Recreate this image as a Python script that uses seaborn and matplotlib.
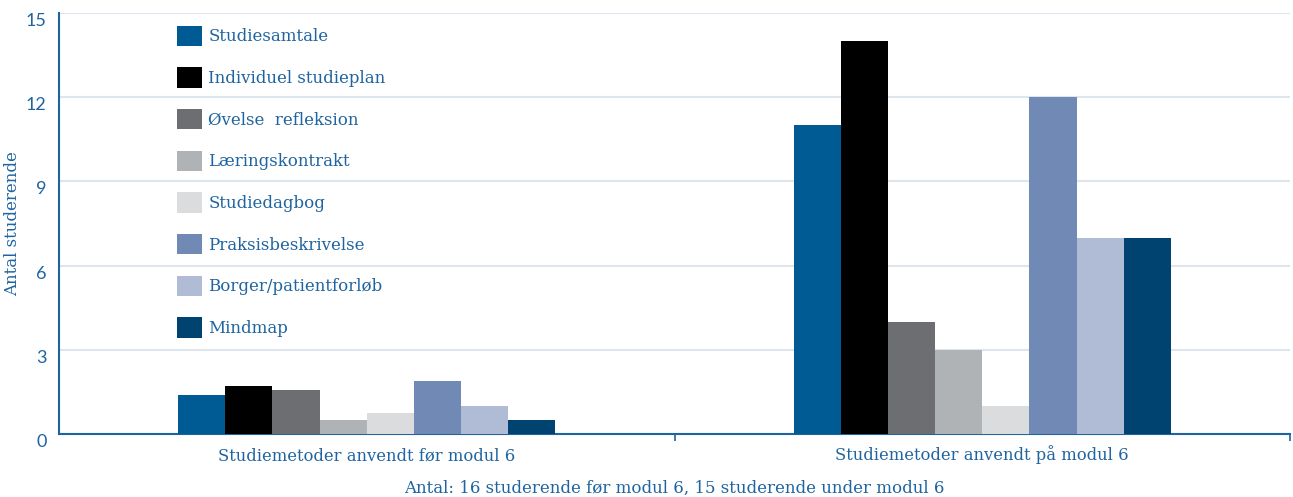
import matplotlib
matplotlib.use("Agg")
import matplotlib.pyplot as plt
import seaborn as sns
import pandas as pd
from matplotlib.patches import Patch

# Data
groups = ["Studiemetoder anvendt før modul 6", "Studiemetoder anvendt på modul 6"]
methods = ["Studiesamtale", "Individuel studieplan", "Øvelse  refleksion", "Læringskontrakt",
           "Studiedagbog", "Praksisbeskrivelse", "Borger/patientforløb", "Mindmap"]
before = [1.4, 1.7, 1.55, 0.5, 0.75, 1.9, 1.0, 0.5]
during = [11, 14, 4, 3, 1, 12, 7, 7]
colors = ["#005a94", "#000000", "#6d6e71", "#b0b3b5", "#dbdcdd", "#7089b5", "#b0bcd6", "#004370"]
y_ticks = [0, 3, 6, 9, 12, 15]

df = pd.DataFrame({
    "gruppe": [groups[0]] * len(methods) + [groups[1]] * len(methods),
    "metode": methods * 2,
    "antal": before + during,
})

blue = "#1f64a0"
sns.set_style("white")
plt.rcParams["font.family"] = ["DejaVu Serif"]

fig = plt.figure(figsize=(12.93, 4.97), dpi=100)
ax = fig.add_axes([59 / 1293, 63 / 497, 1231 / 1293, 421 / 497])

sns.barplot(data=df, x="gruppe", y="antal", hue="metode", hue_order=methods,
            palette=colors, width=0.613, gap=0, saturation=1, ax=ax, legend=False,
            linewidth=0, zorder=3)

ax.set_ylim(0, 15)
ax.set_xlim(-0.5, 1.5)
ax.set_yticks(y_ticks)
ax.yaxis.grid(True, color="#dde6ef", linewidth=1.5, zorder=0)
ax.set_axisbelow(True)

for s in ["top", "right"]:
    ax.spines[s].set_visible(False)
for s in ["left", "bottom"]:
    ax.spines[s].set_color(blue)
    ax.spines[s].set_linewidth(1.5)

ax.tick_params(axis="y", length=0, labelcolor=blue, labelsize=13, pad=9)
for lab in ax.get_yticklabels():
    lab.set_family("Lato")
    lab.set_verticalalignment("top")
ax.tick_params(axis="x", which="major", length=0, labelcolor=blue, labelsize=11.8, pad=19)
for lab in ax.get_xticklabels():
    lab.set_verticalalignment("baseline")
# small separator ticks on the x-axis
ax.set_xticks([0.5, 1.5], minor=True)
ax.tick_params(axis="x", which="minor", bottom=True, length=5, color=blue, width=1.2)

ax.set_ylabel("Antal studerende", color=blue, fontsize=12, labelpad=3)
ax.set_xlabel("Antal: 16 studerende før modul 6, 15 studerende under modul 6",
              color=blue, fontsize=12, labelpad=11)

handles = [Patch(facecolor=c, edgecolor="none") for c in colors]
leg = ax.legend(handles, methods, loc="upper left", bbox_to_anchor=(0.0855, 1.0),
                frameon=False, fontsize=12, handlelength=1.5, handleheight=1.5,
                labelspacing=1.28, handletextpad=0.4, borderaxespad=0.35)
for t in leg.get_texts():
    t.set_color(blue)

fig.savefig("out.png", dpi=100)
